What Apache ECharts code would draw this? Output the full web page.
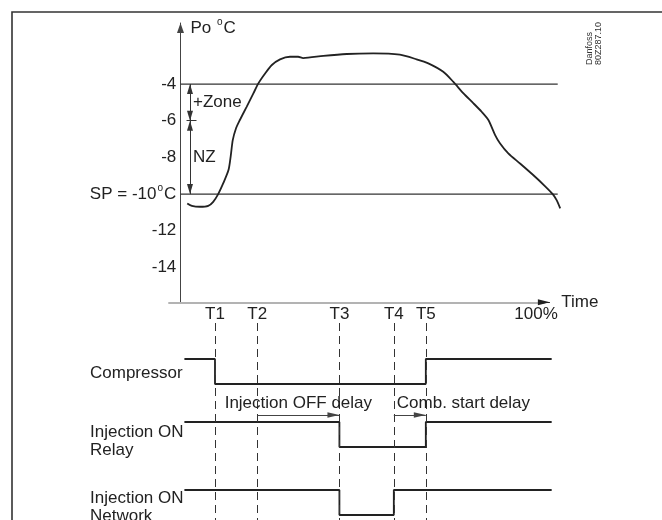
<!DOCTYPE html>
<html>
<head>
<meta charset="utf-8">
<title>Po temperature and injection timing</title>
<script src="https://cdn.jsdelivr.net/npm/echarts@6/dist/echarts.min.js"></script>
<style>
  html, body { margin: 0; padding: 0; background: #fff; }
  #chart { width: 662px; height: 520px; }
</style>
</head>
<body>
<div id="chart"></div>
<script>
// ---- data -------------------------------------------------------------
// Time axis in % of the cycle
const timeMarks = [9.7, 21.6, 44.7, 60, 69];
const timeMarkLabels = ['T1', 'T2', 'T3', 'T4', 'T5'];
const fullScaleTime = 100;
const fullScaleLabel = '100%';
const timeArrowEnd = 103.9;

// Suction pressure temperature Po (°C)
const tempTicks = [-14, -12, -10, -8, -6, -4];
const setPoint = -10;
const zoneSplit = -6;
const zoneUpper = -4;
const thresholdEnd = 106.1;

const curveTime = [1.9, 3.2, 5.5, 7.8, 9.2, 10.6, 12.0, 13.5, 14.1, 14.7, 15.6, 16.7, 18.6, 20.5, 21.9,
  23.8, 25.7, 28.0, 30.8, 33.1, 34.5, 40.2, 46.8, 54.2, 61.7, 66.4, 69.7, 73.9, 76.7, 79.6, 82.4,
  84.7, 86.6, 88.5, 89.9, 92.2, 95.5, 99.2, 102.5, 104.7, 105.8, 106.8];
const curveTemp = [-10.51, -10.64, -10.69, -10.64, -10.42, -10.0, -9.42, -8.69, -7.97, -7.06, -6.42, -5.96,
  -5.24, -4.51, -3.96, -3.42, -2.96, -2.65, -2.51, -2.51, -2.58, -2.46, -2.36, -2.33, -2.40, -2.65, -2.87,
  -3.33, -3.87, -4.51, -5.05, -5.51, -5.96, -6.78, -7.24, -7.78, -8.33, -8.96, -9.56, -10.0, -10.33, -10.78];

// Digital signals (1 = ON, 0 = OFF)
const compressorTimes = [1.1, 9.7, 69, 104.4];
const compressorState = [1, 0, 1, 1];
const relayTimes = [1.1, 44.7, 69, 104.4];
const relayState = [1, 0, 1, 1];
const networkTimes = [1.1, 44.7, 60, 104.4];
const networkState = [1, 0, 1, 1];

const laneNames = ['Compressor', 'Injection ON\nRelay', 'Injection ON\nNetwork'];
const delayLabels = ['Injection OFF delay', 'Comb. start delay'];
const zoneLabels = ['+Zone', 'NZ'];

// ---- layout / style ----------------------------------------------------
const FONT = '"Liberation Sans", Arial, sans-serif';
const INK = '#222';
const X_MIN = -3.43, X_MAX = 106.8;
const Y_MIN = -15.9, Y_MAX = -0.67;
const GRID_LEFT = 168.3, GRID_RIGHT = 101.8;
const LANE_BASE = [61, 124, 192];      // OFF level of each lane (px below lane grid top)
const LANE_LABEL_Y = [50, 118, 184];
const LANE_SWING = 25;
const DELAY_ARROW_Y = 92;
const ZONE_X = 2.67;

// Solid triangular arrow head, tip pointing along the line direction
const HEAD = 'path://M5,0L10,14L0,14Z';
function head(w, h) {
  // shift the head back by half its length so the tip lands on the end point
  return { symbol: HEAD, symbolSize: [w, h], symbolOffset: [0, h / 2], symbolKeepAspect: false };
}

const supRich = { sup: { fontSize: 10, padding: [0, 1, 11, 1], color: INK, fontFamily: FONT } };
const textBase = { fontSize: 17, color: INK, fontFamily: FONT };

function laneData(times, states, lane) {
  return times.map((t, i) => [t, LANE_BASE[lane] - states[i] * LANE_SWING]);
}

function zoneArrow(from, to) {
  return [
    Object.assign({ coord: [ZONE_X, from] }, head(6, 10)),
    Object.assign({ coord: [ZONE_X, to] }, head(6, 10))
  ];
}

function delayArrow(from, to, text, position) {
  return [
    { coord: [from, DELAY_ARROW_Y], symbol: 'none', label: { position: position, formatter: text } },
    Object.assign({ coord: [to, DELAY_ARROW_Y] }, head(5.5, 12))
  ];
}

const chart = echarts.init(document.getElementById('chart'), null, { renderer: 'canvas' });

const option = {
  animation: false,
  backgroundColor: '#fff',
  graphic: [
    {
      type: 'rect', silent: true, z: -10,
      shape: { x: 12, y: 12, width: 700, height: 600 },
      style: { fill: null, stroke: '#333', lineWidth: 1.6 }
    },
    {
      type: 'text', silent: true, x: 584.5, y: 65, rotation: Math.PI / 2,
      style: {
        text: 'Danfoss\n80Z287.10', fontSize: 9, lineHeight: 9.5, fill: '#333',
        fontFamily: FONT, align: 'left', verticalAlign: 'top'
      }
    }
  ],
  grid: [
    { left: GRID_LEFT, right: GRID_RIGHT, top: 23, height: 279.3, outerBoundsMode: 'none', containLabel: false },
    { left: GRID_LEFT, right: GRID_RIGHT, top: 323, height: 197, outerBoundsMode: 'none', containLabel: false }
  ],
  xAxis: [
    {
      gridIndex: 0, type: 'value', min: X_MIN, max: X_MAX,
      axisLine: { show: false, onZero: false },
      axisTick: { show: false }, axisLabel: { show: false }, splitLine: { show: false },
      name: 'Time', nameLocation: 'end', nameGap: 1, nameMoveOverlap: false,
      nameTextStyle: Object.assign({ align: 'left', verticalAlign: 'middle' }, textBase)
    },
    {
      gridIndex: 1, type: 'value', min: X_MIN, max: X_MAX, position: 'top',
      axisLine: { show: false, onZero: false }, axisTick: { show: false }, splitLine: { show: false },
      axisLabel: Object.assign({
        customValues: timeMarks.concat([fullScaleTime]), margin: 0,
        formatter: v => {
          const i = timeMarks.indexOf(v);
          return i >= 0 ? timeMarkLabels[i] : fullScaleLabel;
        }
      }, textBase)
    }
  ],
  yAxis: [
    {
      gridIndex: 0, type: 'value', min: Y_MIN, max: Y_MAX,
      axisLine: {
        show: true, onZero: true, symbol: ['none', HEAD], symbolSize: [7, 10], symbolOffset: [0, -5],
        lineStyle: { color: '#444', width: 1 }
      },
      axisTick: { show: false }, splitLine: { show: false },
      axisLabel: Object.assign({
        customValues: tempTicks, margin: -8, rich: supRich,
        formatter: v => v === setPoint ? 'SP = ' + v + '{sup|o}C' : String(v)
      }, textBase),
      name: 'Po {sup|o}C', nameLocation: 'end', nameGap: -5, nameMoveOverlap: false,
      nameTextStyle: Object.assign({ align: 'left', verticalAlign: 'middle', padding: [0, 0, 0, 10], rich: supRich }, textBase)
    },
    {
      gridIndex: 1, type: 'value', min: 0, max: 197, inverse: true,
      axisLine: { show: false, onZero: false }, axisTick: { show: false }, splitLine: { show: false },
      axisLabel: Object.assign({
        customValues: LANE_LABEL_Y, margin: GRID_LEFT - 90, align: 'left', lineHeight: 18,
        formatter: v => laneNames[LANE_LABEL_Y.indexOf(v)]
      }, textBase)
    }
  ],
  series: [
    // Zone thresholds
    {
      type: 'line', xAxisIndex: 0, yAxisIndex: 0, symbol: 'none', silent: true,
      lineStyle: { color: '#333', width: 1.2 },
      data: [[0, zoneUpper], [thresholdEnd, zoneUpper]]
    },
    {
      type: 'line', xAxisIndex: 0, yAxisIndex: 0, symbol: 'none', silent: true,
      lineStyle: { color: '#333', width: 1.2 },
      data: [[0, setPoint], [thresholdEnd, setPoint]],
      // Time axis with arrow head
      markLine: {
        silent: true, label: { show: false },
        data: [
          [{ coord: [X_MIN, Y_MIN], symbol: 'none', lineStyle: { color: '#b3b3b3', width: 2, type: 'solid' } },
           { coord: [timeArrowEnd - 1.5, Y_MIN], symbol: 'none' }],
          [{ coord: [timeArrowEnd - 2, Y_MIN], symbol: 'none', lineStyle: { color: '#222', width: 1, type: 'solid' } },
           Object.assign({ coord: [timeArrowEnd, Y_MIN] }, head(6, 12))]
        ]
      }
    },
    // Po curve
    {
      type: 'line', xAxisIndex: 0, yAxisIndex: 0, symbol: 'none', silent: true,
      smooth: 0.25, lineStyle: { color: INK, width: 1.8 },
      data: curveTime.map((t, i) => [t, curveTemp[i]])
    },
    // Zone annotations
    {
      type: 'scatter', xAxisIndex: 0, yAxisIndex: 0, silent: true, symbolSize: 1,
      itemStyle: { color: 'transparent', opacity: 1 },
      data: [
        [ZONE_X, (zoneUpper + zoneSplit) / 2, zoneLabels[0]],
        [ZONE_X, (zoneSplit + setPoint) / 2, zoneLabels[1]]
      ],
      label: Object.assign({ show: true, position: 'right', distance: 2.5, formatter: p => p.value[2] }, textBase),
      markLine: {
        silent: true, label: { show: false },
        lineStyle: { color: '#333', width: 1, type: 'solid' },
        data: [
          zoneArrow(zoneUpper, zoneSplit),
          zoneArrow(zoneSplit, setPoint),
          [{ coord: [1.7, zoneSplit], symbol: 'none' }, { coord: [4.5, zoneSplit], symbol: 'none' }]
        ]
      }
    },
    // Digital signals
    {
      type: 'line', name: 'Compressor', xAxisIndex: 1, yAxisIndex: 1, step: 'end',
      symbol: 'none', silent: true, lineStyle: { color: INK, width: 1.8 },
      data: laneData(compressorTimes, compressorState, 0),
      markLine: {
        silent: true, symbol: ['none', 'none'], label: { show: false },
        lineStyle: { color: '#333', width: 1, type: [8, 5] },
        data: timeMarks.map(t => ({ xAxis: t }))
      }
    },
    {
      type: 'line', name: 'Injection ON Relay', xAxisIndex: 1, yAxisIndex: 1, step: 'end',
      symbol: 'none', silent: true, lineStyle: { color: INK, width: 1.8 },
      data: laneData(relayTimes, relayState, 1),
      markLine: {
        silent: true,
        lineStyle: { color: '#444', width: 1, type: 'solid' },
        label: Object.assign({ show: true, distance: 3 }, textBase),
        data: [
          delayArrow(timeMarks[1], timeMarks[2], delayLabels[0], 'insideMiddleTop'),
          delayArrow(timeMarks[3], timeMarks[4], delayLabels[1], 'insideStartTop')
        ]
      }
    },
    {
      type: 'line', name: 'Injection ON Network', xAxisIndex: 1, yAxisIndex: 1, step: 'end',
      symbol: 'none', silent: true, lineStyle: { color: INK, width: 1.8 },
      data: laneData(networkTimes, networkState, 2)
    }
  ]
};

chart.setOption(option);
</script>
</body>
</html>
